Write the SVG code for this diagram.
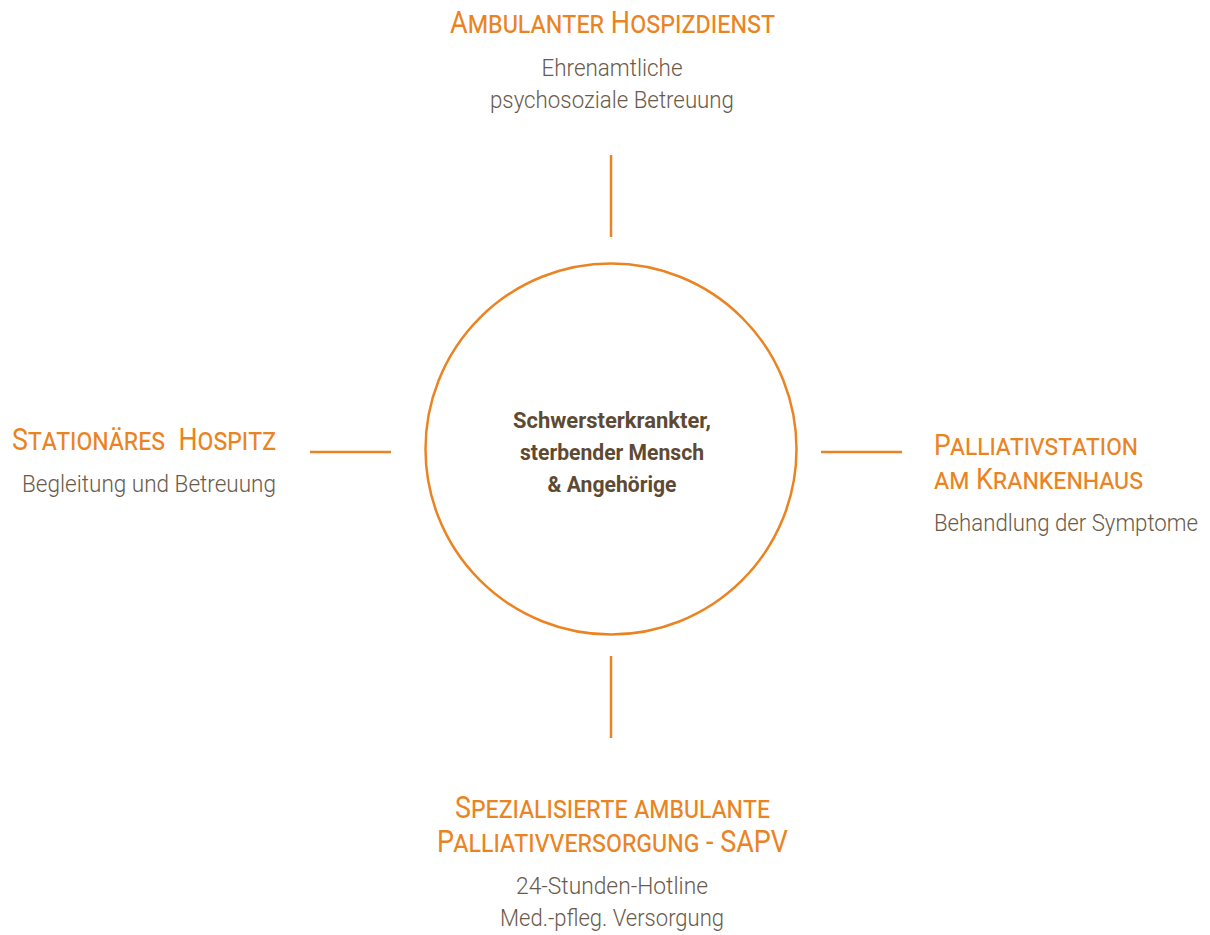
<svg xmlns="http://www.w3.org/2000/svg" width="1210" height="935" viewBox="0 0 1210 935">
<style>
.h{font-family:Roboto,"Liberation Sans",sans-serif;font-weight:400;font-size:31px;fill:#EA8423;font-variant:small-caps}
.s{font-family:Roboto,"Liberation Sans",sans-serif;font-weight:300;font-size:23px;fill:#6A5A4A}
.c{font-family:Roboto,"Liberation Sans",sans-serif;font-weight:700;font-size:22px;fill:#5E4A33;text-anchor:middle}
.l{stroke:#EA8423;stroke-width:2.5;fill:none}
</style>
<rect width="1210" height="935" fill="#ffffff"/>
<g id="center">
<circle cx="611" cy="449" r="185.5" fill="none" stroke="#EA8423" stroke-width="2.5"/>
<text class="c" x="612" y="428" textLength="198" lengthAdjust="spacingAndGlyphs">Schwersterkrankter,</text>
<text class="c" x="612" y="460" textLength="184" lengthAdjust="spacingAndGlyphs">sterbender Mensch</text>
<text class="c" x="612" y="492" textLength="129" lengthAdjust="spacingAndGlyphs">&amp; Angehörige</text>
</g>
<g id="connectors">
<line class="l" x1="611" y1="155" x2="611" y2="237"/>
<line class="l" x1="611" y1="656" x2="611" y2="738"/>
<line class="l" x1="310" y1="452" x2="391" y2="452"/>
<line class="l" x1="821" y1="452" x2="902" y2="452"/>
</g>
<g id="top">
<text class="h" x="450" y="33" textLength="325" lengthAdjust="spacingAndGlyphs">Ambulanter Hospizdienst</text>
<text class="s" x="612" y="76" text-anchor="middle" textLength="141" lengthAdjust="spacingAndGlyphs">Ehrenamtliche</text>
<text class="s" x="490" y="108" textLength="244" lengthAdjust="spacingAndGlyphs">psychosoziale Betreuung</text>
</g>
<g id="left">
<text class="h" x="12" y="450" textLength="264" lengthAdjust="spacingAndGlyphs" xml:space="preserve">Stationäres  Hospitz</text>
<text class="s" x="22" y="492" textLength="254" lengthAdjust="spacingAndGlyphs">Begleitung und Betreuung</text>
</g>
<g id="right">
<text class="h" x="934" y="455" style="font-size:29px" textLength="204" lengthAdjust="spacingAndGlyphs">Palliativstation</text>
<text class="h" x="934" y="489" style="font-size:29px" textLength="209" lengthAdjust="spacingAndGlyphs">am Krankenhaus</text>
<text class="s" x="934" y="531" textLength="264" lengthAdjust="spacingAndGlyphs">Behandlung der Symptome</text>
</g>
<g id="bottom">
<text class="h" x="455" y="818" textLength="315" lengthAdjust="spacingAndGlyphs">Spezialisierte ambulante</text>
<text class="h" x="437" y="852" textLength="351" lengthAdjust="spacingAndGlyphs">Palliativversorgung - SAPV</text>
<text class="s" x="516" y="894" textLength="192" lengthAdjust="spacingAndGlyphs">24-Stunden-Hotline</text>
<text class="s" x="500" y="926" textLength="224" lengthAdjust="spacingAndGlyphs">Med.-pfleg. Versorgung</text>
</g>
</svg>
